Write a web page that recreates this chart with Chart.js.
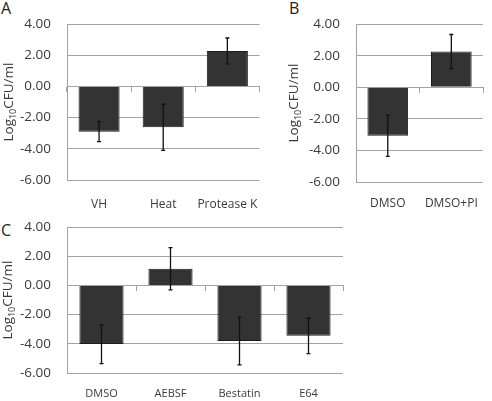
<!DOCTYPE html>
<html>
<head>
<meta charset="utf-8">
<script src="https://cdn.jsdelivr.net/npm/chart.js@4/dist/chart.umd.min.js"></script>
<style>
    body { margin: 0; background: #fff; width: 492px; height: 401px; position: relative; overflow: hidden; font-family: 'Open Sans', sans-serif; }
    canvas { position: absolute; }
    .tag { position: absolute; font-size: 16px; line-height: 1; color: #222; }
</style>
</head>
<body>
<div class="tag" style="left:1px; top:0px;">A</div>
<div class="tag" style="left:289px; top:0px;">B</div>
<div class="tag" style="left:1px; top:222px;">C</div>
<canvas id="chartA" width="275" height="215" style="left:0; top:0;"></canvas>
<canvas id="chartB" width="212" height="215" style="left:280px; top:0;"></canvas>
<canvas id="chartC" width="360" height="196" style="left:0; top:203px;"></canvas>
<script>
// values (Log10 CFU/ml, mean and error)
const labelsA = ['VH', 'Heat', 'Protease K'];
const valuesA = [-2.90, -2.62, 2.28];
const errorsA = [0.64, 1.48, 0.83];

const labelsB = ['DMSO', 'DMSO+PI'];
const valuesB = [-3.07, 2.26];
const errorsB = [1.31, 1.08];

const labelsC = ['DMSO', 'AEBSF', 'Bestatin', 'E64'];
const valuesC = [-4.02, 1.15, -3.80, -3.45];
const errorsC = [1.34, 1.45, 1.64, 1.22];

const yMin = -6;
const yMax = 4;
const yStep = 2;

const gridGray = '#a3a3a3';
const textGray = '#3a3a3a';
const fontFamily = "'Open Sans', sans-serif";

const errorBars = {
    id: 'errorBars',
    afterDatasetsDraw(chart) {
        const ds = chart.data.datasets[0];
        const meta = chart.getDatasetMeta(0);
        const y = chart.scales.y;
        const ctx = chart.ctx;
        ctx.save();
        ctx.strokeStyle = '#111';
        ctx.lineWidth = 1.3;
        meta.data.forEach((bar, i) => {
            const top = y.getPixelForValue(ds.data[i] + ds.errors[i]);
            const bot = y.getPixelForValue(ds.data[i] - ds.errors[i]);
            ctx.beginPath();
            ctx.moveTo(bar.x, top);
            ctx.lineTo(bar.x, bot);
            ctx.moveTo(bar.x - 2, top);
            ctx.lineTo(bar.x + 2, top);
            ctx.moveTo(bar.x - 2, bot);
            ctx.lineTo(bar.x + 2, bot);
            ctx.stroke();
        });
        ctx.restore();
    }
};

// rotated "Log10CFU/ml" with a subscript
const yTitle = {
    id: 'yTitle',
    afterDraw(chart, args, opts) {
        const { ctx, chartArea } = chart;
        const big = "13.5px 'Open Sans'";
        const small = "9px 'Open Sans'";
        ctx.save();
        ctx.font = big;
        const w1 = ctx.measureText('Log').width;
        const w3 = ctx.measureText('CFU/ml').width;
        ctx.font = small;
        const w2 = ctx.measureText('10').width;
        const total = w1 + w2 + w3;
        ctx.translate(opts.x, (chartArea.top + chartArea.bottom) / 2);
        ctx.rotate(-Math.PI / 2);
        ctx.fillStyle = textGray;
        ctx.textBaseline = 'middle';
        ctx.textAlign = 'left';
        let x = -total / 2;
        ctx.font = big;
        ctx.fillText('Log', x, 0);
        x += w1;
        ctx.font = small;
        ctx.fillText('10', x, 4);
        x += w2;
        ctx.font = big;
        ctx.fillText('CFU/ml', x, 0);
        ctx.restore();
    }
};

function makePanel(id, labels, values, errors, box) {
    const ctx = document.getElementById(id).getContext('2d');
    return new Chart(ctx, {
        type: 'bar',
        data: {
            labels: labels,
            datasets: [{
                data: values,
                errors: errors,
                backgroundColor: '#333333',
                borderColor: '#1c1c1c',
                borderWidth: 1,
                barPercentage: 0.64,
                categoryPercentage: 1
            }]
        },
        options: {
            responsive: false,
            animation: false,
            layout: { padding: { top: box.top, right: box.right, left: 0, bottom: 0 } },
            plugins: {
                legend: { display: false },
                tooltip: { enabled: false },
                yTitle: { x: box.titleX }
            },
            scales: {
                x: {
                    position: 'bottom',
                    grid: { display: false, drawTicks: false },
                    border: { display: false },
                    ticks: {
                        padding: box.labelPad,
                        color: textGray,
                        maxRotation: 0,
                        autoSkip: false,
                        font: { family: fontFamily, size: box.labelSize }
                    },
                    afterFit: s => { s.height = box.xHeight; }
                },
                zero: {
                    type: 'category',
                    axis: 'x',
                    position: { y: 0 },
                    offset: true,
                    grid: { drawOnChartArea: false, drawTicks: true, tickLength: 5, color: gridGray, offset: true },
                    border: { display: true, color: gridGray },
                    ticks: { display: false }
                },
                y: {
                    min: yMin,
                    max: yMax,
                    ticks: {
                        stepSize: yStep,
                        padding: 16,
                        color: textGray,
                        font: { family: fontFamily, size: 13.5 },
                        callback: v => v.toFixed(2)
                    },
                    grid: { color: gridGray, drawTicks: false },
                    border: { color: gridGray },
                    afterFit: s => { s.width = box.left; }
                }
            }
        },
        plugins: [errorBars, yTitle]
    });
}

makePanel('chartA', labelsA, valuesA, errorsA,
    { left: 67, top: 24, right: 4, xHeight: 35, labelPad: 17, labelSize: 12, titleX: 9 });
makePanel('chartB', labelsB, valuesB, errorsB,
    { left: 76, top: 24, right: 1, xHeight: 33, labelPad: 14, labelSize: 12, titleX: 14 });
makePanel('chartC', labelsC, valuesC, errorsC,
    { left: 67, top: 22, right: 17, xHeight: 26, labelPad: 14, labelSize: 11, titleX: 8 });
</script>
</body>
</html>
